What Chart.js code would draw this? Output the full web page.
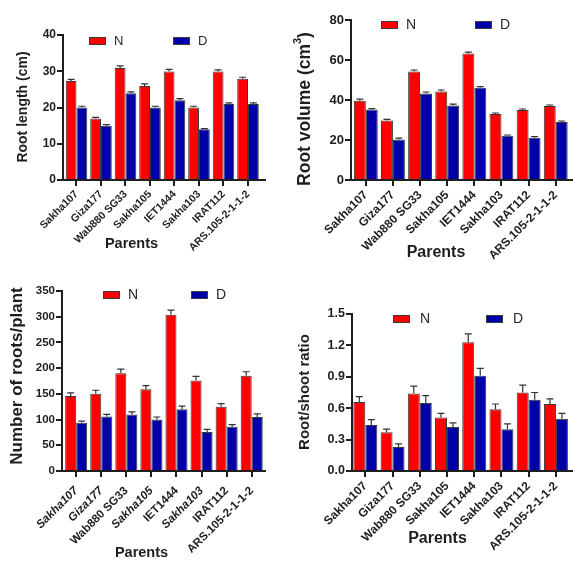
<!DOCTYPE html>
<html>
<head>
<meta charset="utf-8">
<script src="https://cdn.jsdelivr.net/npm/chart.js@4/dist/chart.umd.min.js"></script>
<style>
  html, body { margin: 0; padding: 0; background: #fff; width: 573px; height: 563px; overflow: hidden; }
  canvas { position: absolute; }
</style>
</head>
<body>
<canvas id="c1" width="287" height="280" style="left:0;top:0"></canvas>
<canvas id="c2" width="286" height="280" style="left:287px;top:0"></canvas>
<canvas id="c3" width="287" height="283" style="left:0;top:280px"></canvas>
<canvas id="c4" width="286" height="283" style="left:287px;top:280px"></canvas>
<script>
// ---- data ----
const parents = ['Sakha107', 'Giza177', 'Wab880 SG33', 'Sakha105', 'IET1444', 'Sakha103', 'IRAT112', 'ARS.105-2-1-1-2'];
const seriesNames = ['N', 'D'];

const rootLengthN    = [27.3, 17.0, 30.9, 25.9, 29.9, 20.0, 29.9, 27.9];
const rootLengthNErr = [0.45, 0.3, 0.6, 0.6, 0.6, 0.35, 0.5, 0.45];
const rootLengthD    = [20.0, 15.0, 23.9, 20.0, 22.0, 14.0, 21.0, 21.0];
const rootLengthDErr = [0.35, 0.3, 0.4, 0.35, 0.45, 0.2, 0.3, 0.3];

const rootVolumeN    = [39.6, 29.7, 54.2, 44.2, 63.2, 33.0, 35.0, 37.0];
const rootVolumeNErr = [0.8, 0.6, 0.8, 0.8, 0.7, 0.5, 0.5, 0.5];
const rootVolumeD    = [35.2, 20.2, 43.2, 37.2, 46.1, 22.1, 21.1, 29.0];
const rootVolumeDErr = [0.5, 0.7, 0.8, 0.7, 0.6, 0.4, 0.6, 0.5];

const rootsPerPlantN    = [146, 150, 190, 159, 304, 176, 125, 185];
const rootsPerPlantNErr = [6, 7, 8, 7, 9, 8, 6, 8];
const rootsPerPlantD    = [94, 106, 110, 100, 120, 76, 86, 105];
const rootsPerPlantDErr = [3, 4, 5, 5, 6, 5, 4, 6];

const rootShootN    = [0.66, 0.37, 0.74, 0.51, 1.23, 0.59, 0.75, 0.64];
const rootShootNErr = [0.05, 0.03, 0.07, 0.04, 0.08, 0.05, 0.07, 0.05];
const rootShootD    = [0.44, 0.23, 0.65, 0.42, 0.91, 0.40, 0.68, 0.50];
const rootShootDErr = [0.05, 0.03, 0.07, 0.04, 0.07, 0.05, 0.07, 0.05];

const rootLengthTicks = [0, 10, 20, 30, 40];
const rootVolumeTicks = [0, 20, 40, 60, 80];
const rootsPerPlantTicks = [0, 50, 100, 150, 200, 250, 300, 350];
const rootShootTicks = [0, 0.3, 0.6, 0.9, 1.2, 1.5];
const rootShootTickLabels = ['0.0', '0.3', '0.6', '0.9', '1.2', '1.5'];

// ---- styling ----
const FONT = "'Liberation Sans', Arial, Helvetica, sans-serif";
const INK = '#1e1e1e';
const RED = '#ff0000';
const BLUE = '#0000a8';
const EDGE = '#3a3a3a';

// Upward-only error bars with a short cap
const errorBars = {
  id: 'errorBars',
  afterDatasetsDraw(chart) {
    const { ctx } = chart;
    const ys = chart.scales.y;
    chart.data.datasets.forEach((ds, di) => {
      const meta = chart.getDatasetMeta(di);
      meta.data.forEach((bar, i) => {
        const v = ds.data[i].y;
        const e = ds.errors[i];
        const base = ys.getPixelForValue(v);
        const top = ys.getPixelForValue(v + e);
        ctx.save();
        ctx.strokeStyle = '#333';
        ctx.lineWidth = 1.2;
        ctx.beginPath();
        ctx.moveTo(bar.x, base);
        ctx.lineTo(bar.x, top);
        ctx.moveTo(bar.x - 3.5, top);
        ctx.lineTo(bar.x + 3.5, top);
        ctx.stroke();
        ctx.restore();
      });
    });
  }
};

// Legend swatches and axis titles placed inside each panel
const panelText = {
  id: 'panelText',
  afterDraw(chart, args, opts) {
    const { ctx } = chart;
    ctx.save();
    // legend
    chart.data.datasets.forEach((ds, di) => {
      const p = opts.legend[di];
      ctx.fillStyle = ds.backgroundColor;
      ctx.strokeStyle = EDGE;
      ctx.lineWidth = 1;
      ctx.fillRect(p.x, p.y, 17, 8);
      ctx.strokeRect(p.x + 0.5, p.y + 0.5, 16, 7);
      ctx.fillStyle = '#2a2a2a';
      ctx.font = `${opts.legendSize}px ${FONT}`;
      ctx.textAlign = 'left';
      ctx.textBaseline = 'middle';
      ctx.fillText(ds.label, p.x + 17 + opts.legendGap, p.y + 4.5);
    });
    // x title
    const xt = opts.xTitle;
    ctx.fillStyle = INK;
    ctx.font = `bold ${xt.size}px ${FONT}`;
    ctx.textAlign = 'center';
    ctx.textBaseline = 'middle';
    ctx.fillText(xt.text, xt.x, xt.y);
    // y title (rotated, may contain a superscript part)
    const yt = opts.yTitle;
    ctx.translate(yt.x, yt.y);
    ctx.rotate(-Math.PI / 2);
    const parts = yt.parts.map(p => {
      const size = p.sup ? yt.size * 0.62 : yt.size;
      ctx.font = `bold ${size}px ${FONT}`;
      return { ...p, size, w: ctx.measureText(p.t).width };
    });
    const total = parts.reduce((s, p) => s + p.w, 0);
    let cx = -total / 2;
    ctx.textAlign = 'left';
    ctx.textBaseline = 'middle';
    parts.forEach(p => {
      ctx.font = `bold ${p.size}px ${FONT}`;
      ctx.fillText(p.t, cx, p.sup ? -yt.size * 0.38 : 0);
      cx += p.w;
    });
    ctx.restore();
  }
};

function makeChart(cfg) {
  const canvas = document.getElementById(cfg.id);
  const W = canvas.width, H = canvas.height;
  const a = cfg.area;
  const mk = (vals, errs, name, color) => ({
    label: name,
    data: vals.map((v, i) => ({ x: i, y: v })),
    errors: errs,
    backgroundColor: color,
    borderColor: EDGE,
    borderWidth: 1,
    categoryPercentage: 0.88,
    barPercentage: 1.0
  });
  return new Chart(canvas, {
    type: 'bar',
    data: {
      datasets: [
        mk(cfg.n, cfg.nErr, seriesNames[0], RED),
        mk(cfg.d, cfg.dErr, seriesNames[1], BLUE)
      ]
    },
    options: {
      responsive: false,
      animation: false,
      layout: { padding: { left: 0, top: a.top, right: W - a.right, bottom: 0 } },
      plugins: {
        legend: { display: false },
        tooltip: { enabled: false },
        panelText: cfg.text
      },
      scales: {
        x: {
          type: 'linear',
          offset: false,
          min: cfg.xRange[0],
          max: cfg.xRange[1],
          afterBuildTicks: s => { s.ticks = parents.map((_, i) => ({ value: i })); },
          afterFit: s => { s.height = H - a.bottom; },
          grid: { offset: false, drawOnChartArea: false, drawTicks: true, tickLength: 6, color: INK, lineWidth: 2 },
          border: { display: true, color: INK, width: 2 },
          ticks: {
            autoSkip: false,
            minRotation: 45,
            maxRotation: 45,
            padding: cfg.xPad,
            color: INK,
            callback: (v, i) => parents[i],
            font: c => ({
              family: FONT,
              size: cfg.xTickSize,
              weight: 'bold',
              style: (cfg.italic && cfg.italic.includes(c.index)) ? 'italic' : 'normal'
            })
          }
        },
        y: {
          min: cfg.yTicks[0],
          max: cfg.yTicks[cfg.yTicks.length - 1],
          afterBuildTicks: s => { s.ticks = cfg.yTicks.map(v => ({ value: v })); },
          afterFit: s => { s.width = a.left; },
          grid: { drawOnChartArea: false, drawTicks: true, tickLength: 6, color: INK, lineWidth: 2 },
          border: { display: true, color: INK, width: 2 },
          ticks: {
            padding: 1,
            color: INK,
            font: { family: FONT, size: cfg.yTickSize, weight: 'bold' },
            callback: (v, i) => cfg.yLabels ? cfg.yLabels[i] : String(cfg.yTicks[i])
          }
        }
      }
    },
    plugins: [errorBars, panelText]
  });
}

makeChart({
  id: 'c1',
  area: { left: 63, top: 35, right: 265, bottom: 180 },
  xRange: [-0.551, 7.694],
  n: rootLengthN, nErr: rootLengthNErr, d: rootLengthD, dErr: rootLengthDErr,
  yTicks: rootLengthTicks,
  xTickSize: 10.6, yTickSize: 12, xPad: 2,
  text: {
    legend: [{ x: 89, y: 37 }, { x: 173, y: 37 }], legendSize: 13, legendGap: 8,
    xTitle: { text: 'Parents', x: 131.5, y: 244, size: 14.5 },
    yTitle: { parts: [{ t: 'Root length (cm)' }], x: 23, y: 107, size: 14 }
  }
});

makeChart({
  id: 'c2',
  area: { left: 64, top: 20, right: 285, bottom: 180 },
  xRange: [-0.546, 7.60],
  n: rootVolumeN, nErr: rootVolumeNErr, d: rootVolumeD, dErr: rootVolumeDErr,
  yTicks: rootVolumeTicks,
  xTickSize: 12, yTickSize: 13, xPad: 2,
  text: {
    legend: [{ x: 94, y: 21 }, { x: 188, y: 21 }], legendSize: 14, legendGap: 8,
    xTitle: { text: 'Parents', x: 149, y: 253, size: 16 },
    yTitle: { parts: [{ t: 'Root volume (cm' }, { t: '3', sup: true }, { t: ')' }], x: 18, y: 109, size: 17.5 }
  }
});

makeChart({
  id: 'c3',
  area: { left: 62, top: 11, right: 265, bottom: 191 },
  xRange: [-0.566, 7.53],
  n: rootsPerPlantN, nErr: rootsPerPlantNErr, d: rootsPerPlantD, dErr: rootsPerPlantDErr,
  yTicks: rootsPerPlantTicks,
  xTickSize: 11.6, yTickSize: 11.5, xPad: 7,
  italic: [0, 1, 3, 5],
  text: {
    legend: [{ x: 103, y: 11 }, { x: 191, y: 11 }], legendSize: 14, legendGap: 8,
    xTitle: { text: 'Parents', x: 141.5, y: 273, size: 14.5 },
    yTitle: { parts: [{ t: 'Number of roots/plant' }], x: 17, y: 96, size: 17 }
  }
});

makeChart({
  id: 'c4',
  area: { left: 65, top: 34, right: 285, bottom: 191 },
  xRange: [-0.489, 7.59],
  n: rootShootN, nErr: rootShootNErr, d: rootShootD, dErr: rootShootDErr,
  yTicks: rootShootTicks, yLabels: rootShootTickLabels,
  xTickSize: 12, yTickSize: 12.5, xPad: 2,
  text: {
    legend: [{ x: 106, y: 35 }, { x: 199, y: 35 }], legendSize: 14, legendGap: 10,
    xTitle: { text: 'Parents', x: 150.5, y: 259, size: 16 },
    yTitle: { parts: [{ t: 'Root/shoot ratio' }], x: 18, y: 112, size: 15 }
  }
});
</script>
</body>
</html>
